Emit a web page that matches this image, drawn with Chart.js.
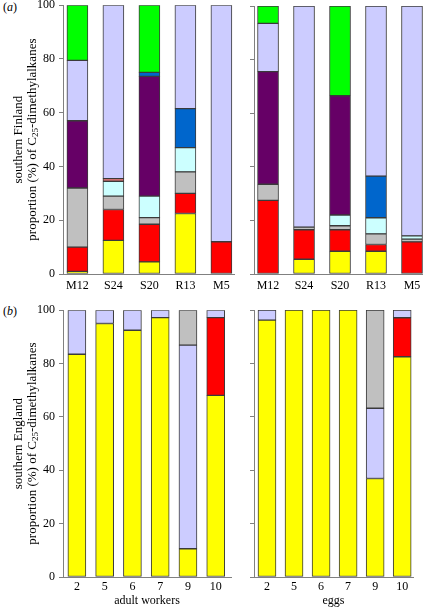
<!DOCTYPE html>
<html>
<head>
<meta charset="utf-8">
<script src="https://cdn.jsdelivr.net/npm/chart.js@4.4.1/dist/chart.umd.min.js"></script>
<style>
    html, body { margin: 0; padding: 0; background: #fff; overflow: hidden; width: 423px; height: 610px; }
    canvas { position: absolute; }
    .tag { position: absolute; font: 12px "Liberation Serif", serif; color: #000; line-height: 14px; }
</style>
</head>
<body>
<div class="tag" style="left:3px;top:0px">(<i>a</i>)</div>
<div class="tag" style="left:3px;top:304px">(<i>b</i>)</div>
<canvas id="fin-workers" width="245" height="306" style="left:0;top:-6px"></canvas>
<canvas id="fin-eggs" width="200" height="300" style="left:240px;top:0"></canvas>
<canvas id="eng-workers" width="245" height="311" style="left:0;top:299px"></canvas>
<canvas id="eng-eggs" width="183" height="310" style="left:240px;top:300px"></canvas>

<script>
// categories
var finlandSites = ['M12', 'S24', 'S20', 'R13', 'M5'];
var englandColonies = ['2', '5', '6', '7', '9', '10'];
var yTicks = [0, 20, 40, 60, 80, 100];

// southern Finland, adult workers (% of C25-dimethylalkanes)
var finWorkYellow   = [1, 12.5, 4.5, 22.5, 0];
var finWorkRed      = [9, 11.5, 14, 7.5, 12];
var finWorkGray     = [22, 5, 2.5, 8, 0];
var finWorkCyan     = [0, 5.5, 8, 9, 0];
var finWorkPink     = [0, 1, 0, 0, 0];
var finWorkPurple   = [25, 0, 44.5, 0, 0];
var finWorkBlue     = [0, 0, 1.5, 14.5, 0];
var finWorkLavender = [22.5, 64.5, 0, 38.5, 88];
var finWorkGreen    = [20.5, 0, 25, 0, 0];

// southern Finland, eggs
var finEggYellow   = [0, 5.5, 8.5, 8.5, 0];
var finEggRed      = [27.5, 11, 8, 2.5, 12];
var finEggGray     = [6, 1, 1.5, 4, 1];
var finEggCyan     = [0, 0, 4, 6, 1.2];
var finEggPink     = [0, 0, 0, 0, 0];
var finEggPurple   = [42, 0, 44.5, 0, 0];
var finEggBlue     = [0, 0, 0, 15.5, 0];
var finEggLavender = [18, 82.5, 0, 63.5, 85.8];
var finEggGreen    = [6.5, 0, 33.5, 0, 0];

// southern England, adult workers
var engWorkYellow   = [83.5, 95, 92.5, 97.2, 10.6, 68.1];
var engWorkRed      = [0, 0, 0, 0, 0, 29.1];
var engWorkLavender = [16.5, 5, 7.5, 2.8, 76.3, 2.8];
var engWorkGray     = [0, 0, 0, 0, 13.1, 0];

// southern England, eggs
var engEggYellow   = [96.2, 100, 100, 100, 36.9, 82.5];
var engEggRed      = [0, 0, 0, 0, 0, 14.6];
var engEggLavender = [3.8, 0, 0, 0, 26.3, 2.9];
var engEggGray     = [0, 0, 0, 0, 36.8, 0];

var COLORS = {
    yellow: '#FFFF00', red: '#FF0000', gray: '#C0C0C0', cyan: '#CCFFFF',
    pink: '#FF8080', purple: '#660066', blue: '#0066CC', lavender: '#CCCCFF', green: '#00FF00'
};
var FONT = '"Liberation Serif", "Times New Roman", serif';
var AXIS = '#808080';

function series(values, color, thickness) {
    return {
        data: values.map(function (v, i) { return { x: i, y: v > 0 ? v : null }; }),
        backgroundColor: COLORS[color],
        borderColor: '#3a3a3a',
        borderWidth: 1,
        borderSkipped: false,
        barThickness: thickness
    };
}

var yTitlePlugin = {
    id: 'yTitle',
    afterDraw: function (chart, args, opts) {
        if (!opts.line1) return;
        var ctx = chart.ctx;
        var area = chart.chartArea;
        var cy = (area.top + area.bottom) / 2;
        ctx.save();
        ctx.fillStyle = '#000';
        ctx.textBaseline = 'middle';
        ctx.font = '13px ' + FONT;
        ctx.textAlign = 'center';
        ctx.translate(opts.x1, cy);
        ctx.rotate(-Math.PI / 2);
        ctx.fillText(opts.line1, 0, 0);
        ctx.restore();

        // second line, with the 25 as subscript
        var a = 'proportion (%) of C', sub = '25', b = '-dimethylalkanes';
        ctx.save();
        ctx.fillStyle = '#000';
        ctx.textBaseline = 'middle';
        ctx.textAlign = 'left';
        ctx.font = '13px ' + FONT;
        var wa = ctx.measureText(a).width, wb = ctx.measureText(b).width;
        ctx.font = '9px ' + FONT;
        var ws = ctx.measureText(sub).width;
        var total = wa + ws + wb;
        ctx.translate(opts.x2, cy);
        ctx.rotate(-Math.PI / 2);
        var x = -total / 2;
        ctx.font = '13px ' + FONT;
        ctx.fillText(a, x, 0);
        ctx.font = '9px ' + FONT;
        ctx.fillText(sub, x + wa, 3);
        ctx.font = '13px ' + FONT;
        ctx.fillText(b, x + wa + ws, 0);
        ctx.restore();
    }
};

function makePanel(id, cfg) {
    new Chart(document.getElementById(id), {
        type: 'bar',
        data: { datasets: cfg.datasets },
        plugins: [yTitlePlugin],
        options: {
            responsive: false,
            animation: false,
            events: [],
            layout: { padding: cfg.padding },
            plugins: {
                legend: { display: false },
                tooltip: { enabled: false },
                yTitle: cfg.yTitle || {}
            },
            scales: {
                x: {
                    type: 'linear',
                    offset: false,
                    stacked: true,
                    min: cfg.xMin,
                    max: cfg.xMax,
                    afterFit: function (scale) { scale.height = cfg.xHeight; },
                    afterBuildTicks: function (scale) {
                        scale.ticks = cfg.labels.map(function (l, i) { return { value: i }; });
                    },
                    ticks: {
                        autoSkip: false,
                        maxRotation: 0,
                        padding: cfg.xPad,
                        color: '#000',
                        font: { family: FONT, size: 12 },
                        callback: function (v) { return cfg.labels[v]; }
                    },
                    grid: { offset: false, drawOnChartArea: false, drawTicks: false },
                    border: { display: true, color: AXIS },
                    title: cfg.xTitle ? {
                        display: true, text: cfg.xTitle, color: '#000',
                        font: { family: FONT, size: 12 }, padding: { top: 0, bottom: 2 }
                    } : { display: false }
                },
                y: {
                    stacked: true,
                    min: 0,
                    max: 100,
                    afterFit: function (scale) { scale.width = cfg.yWidth; },
                    afterBuildTicks: function (scale) {
                        scale.ticks = yTicks.map(function (v) { return { value: v }; });
                    },
                    ticks: {
                        display: cfg.showY,
                        padding: 4,
                        color: '#000',
                        font: { family: FONT, size: 12 }
                    },
                    grid: { drawOnChartArea: false, drawTicks: true, tickLength: 4, color: AXIS },
                    border: { display: true, color: AXIS }
                }
            }
        }
    });
}

function finlandSets(y, r, g, c, p, pu, bl, la, gr) {
    return [series(y, 'yellow', 21), series(r, 'red', 21), series(g, 'gray', 21), series(c, 'cyan', 21),
            series(p, 'pink', 21), series(pu, 'purple', 21), series(bl, 'blue', 21),
            series(la, 'lavender', 21), series(gr, 'green', 21)];
}

function englandSets(y, r, la, g) {
    return [series(y, 'yellow', 18), series(r, 'red', 18), series(la, 'lavender', 18), series(g, 'gray', 18)];
}

makePanel('fin-workers', {
    datasets: finlandSets(finWorkYellow, finWorkRed, finWorkGray, finWorkCyan, finWorkPink,
                          finWorkPurple, finWorkBlue, finWorkLavender, finWorkGreen),
    labels: finlandSites, xMin: -0.4, xMax: 4.35, xHeight: 26, xPad: 5,
    yWidth: 63, showY: true, padding: { top: 0, right: 11 },
    yTitle: { line1: 'southern Finland', x1: 19, x2: 33 }
});

makePanel('fin-eggs', {
    datasets: finlandSets(finEggYellow, finEggRed, finEggGray, finEggCyan, finEggPink,
                          finEggPurple, finEggBlue, finEggLavender, finEggGreen),
    labels: finlandSites, xMin: -0.39, xMax: 4.5, xHeight: 26, xPad: 5,
    yWidth: 14, showY: false, padding: { top: 6, right: 10 }
});

makePanel('eng-workers', {
    datasets: englandSets(engWorkYellow, engWorkRed, engWorkLavender, engWorkGray),
    labels: englandColonies, xMin: -0.5, xMax: 5.55, xHeight: 33, xPad: 3,
    xTitle: 'adult workers',
    yWidth: 63, showY: true, padding: { top: 4, right: 14 },
    yTitle: { line1: 'southern England', x1: 19, x2: 33 }
});

makePanel('eng-eggs', {
    datasets: englandSets(engEggYellow, engEggRed, engEggLavender, engEggGray),
    labels: englandColonies, xMin: -0.48, xMax: 5.4, xHeight: 33, xPad: 3,
    xTitle: 'eggs',
    yWidth: 14, showY: false, padding: { top: 10, right: 10 }
});
</script>
</body>
</html>
